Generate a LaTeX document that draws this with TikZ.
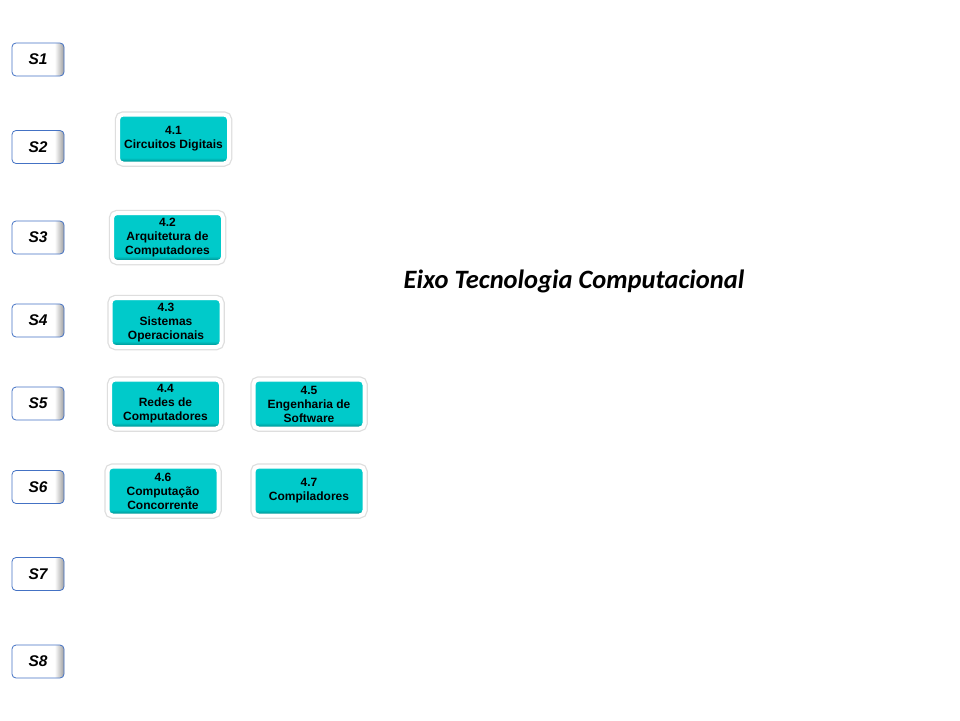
\documentclass[tikz,border=0pt]{standalone}
\usepackage{fontspec}
\setmainfont{Liberation Sans}
\newfontfamily\titlefont{Carlito}
\definecolor{sblue}{RGB}{68,114,196}
\definecolor{tealA}{RGB}{0,202,202}
\definecolor{tealB}{RGB}{0,150,150}
\pgfdeclarehorizontalshading{sshade}{100bp}{color(0bp)=(white); color(66bp)=(white); color(75bp)=(black!38); color(100bp)=(black!38)}
\pgfdeclareverticalshading{tshade}{100bp}{color(0bp)=(tealB); color(27bp)=(tealB); color(31bp)=(tealA); color(72bp)=(tealA); color(75bp)=(tealA!85!white); color(100bp)=(tealA!85!white)}
\begin{document}
\begin{tikzpicture}[x=1pt,y=-1pt,
  sbox/.style={rounded corners=4pt, draw=sblue, line width=0.8pt,
    shading=sshade,
    minimum width=52pt, minimum height=33pt, inner sep=0pt,
    font=\fontsize{15.5}{17}\selectfont\bfseries\itshape},
  tbox/.style={rounded corners=5pt,
    preaction={draw=black!13, line width=6.5pt},
    draw=white, line width=4pt,
    shading=tshade,
    minimum width=111pt, minimum height=49pt, inner sep=0pt, align=center,
    font=\fontsize{12}{14}\selectfont\bfseries}]
\useasboundingbox (0,0) rectangle (960,720);
\fill[white] (0,0) rectangle (960,720);
\node[sbox] (s1) at (38,59.5) {S1};
\node[sbox] (s2) at (38,147) {S2};
\node[sbox] (s3) at (38,237.5) {S3};
\node[sbox] (s4) at (38,320.5) {S4};
\node[sbox] (s5) at (38,403.5) {S5};
\node[sbox] (s6) at (38,487) {S6};
\node[sbox] (s7) at (38,574) {S7};
\node[sbox] (s8) at (38,661.5) {S8};
\node[tbox] (b41) at (173.5,139) {4.1\\Circuitos Digitais};
\node[tbox] (b42) at (167.5,237.5) {4.2\\Arquitetura de\\Computadores};
\node[tbox] (b43) at (166,322.5) {4.3\\Sistemas\\Operacionais};
\node[tbox] (b44) at (165.5,404) {4.4\\Redes de\\Computadores};
\node[tbox] (b45) at (309,404) {4.5\\Engenharia de\\Software};
\node[tbox] (b46) at (163,491) {4.6\\Computação\\Concorrente};
\node[tbox] (b47) at (309,491) {4.7\\Compiladores};
\node[font=\titlefont\fontsize{26.5}{30}\selectfont\bfseries\itshape] (title) at (574,281) {Eixo Tecnologia Computacional};
\end{tikzpicture}
\end{document}
